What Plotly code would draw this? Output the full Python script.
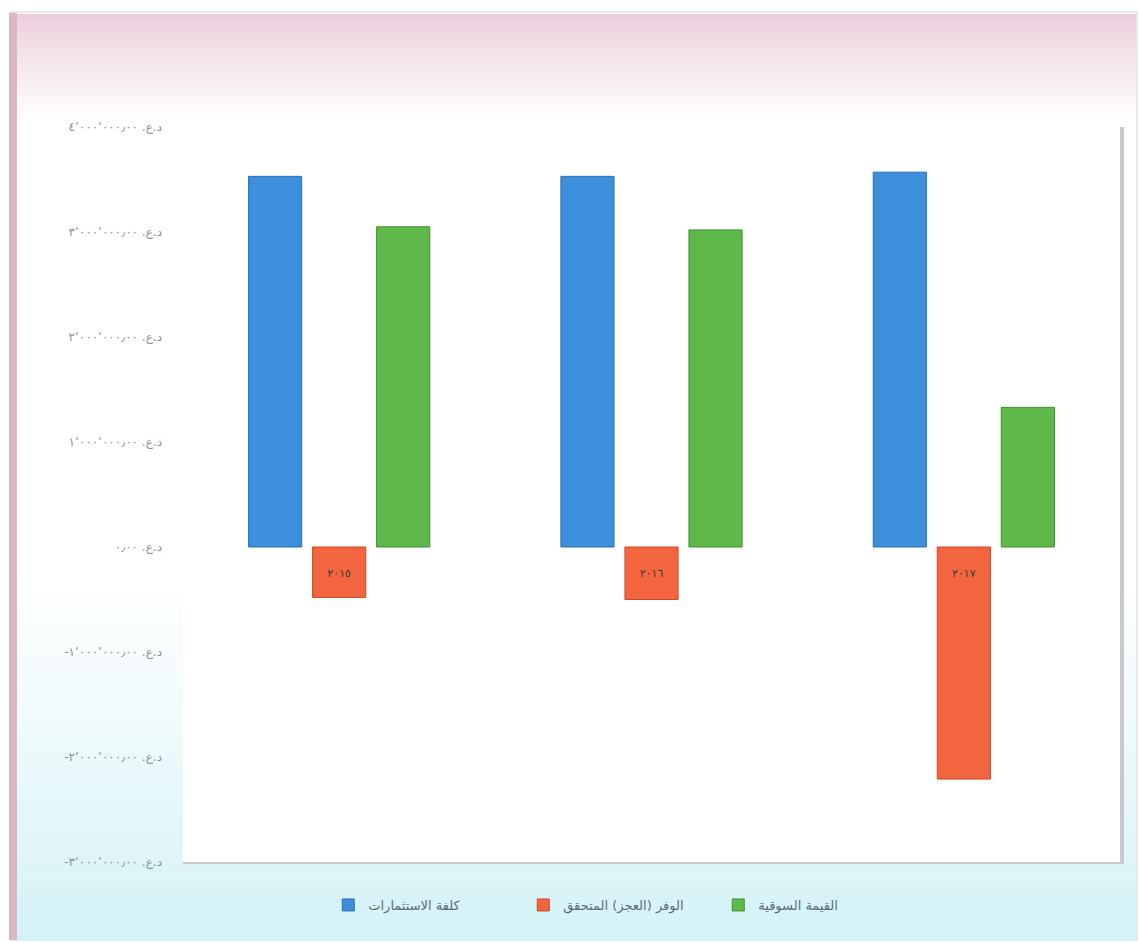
import plotly.graph_objects as go

# ---------------- data ----------------
categories = ["٢٠١٥", "٢٠١٦", "٢٠١٧"]
series_names = ["كلفة الاستثمارات", "الوفر (العجز) المتحقق", "القيمة السوقية"]
investment_cost = [3530000, 3530000, 3570000]
surplus_deficit = [-480000, -500000, -2210000]
market_value = [3050000, 3020000, 1330000]

tick_values = [4000000, 3000000, 2000000, 1000000, 0, -1000000, -2000000, -3000000]
tick_labels = [
    "٤٬٠٠٠٬٠٠٠٫٠٠\u200e .د.ع",
    "٣٬٠٠٠٬٠٠٠٫٠٠\u200e .د.ع",
    "٢٬٠٠٠٬٠٠٠٫٠٠\u200e .د.ع",
    "١٬٠٠٠٬٠٠٠٫٠٠\u200e .د.ع",
    "٠٫٠٠\u200e .د.ع",
    "-١٬٠٠٠٬٠٠٠٫٠٠\u200e .د.ع",
    "-٢٬٠٠٠٬٠٠٠٫٠٠\u200e .د.ع",
    "-٣٬٠٠٠٬٠٠٠٫٠٠\u200e .د.ع",
]

colors = ["#3d8fdc", "#f2653f", "#5fb84a"]
line_colors = ["#2a6fb3", "#c9482a", "#3f8f33"]

W, H = 1139, 943
ML, MR, MT, MB = 183, 19, 127, 81

fig = go.Figure()
for name, vals, c, lc in zip(series_names, [investment_cost, surplus_deficit, market_value], colors, line_colors):
    fig.add_trace(go.Bar(
        x=categories, y=vals, name=name,
        marker=dict(color=c, line=dict(color=lc, width=1)),
        hoverinfo="x+y+name",
    ))

# ---------------- background decoration ----------------
def px_x(px):
    return (px - ML) / (W - ML - MR)

def px_y(py):
    return (H - MB - py) / (H - MT - MB)

def lerp(c1, c2, t):
    return "rgb(%d,%d,%d)" % tuple(round(a + (b - a) * t) for a, b in zip(c1, c2))

shapes = []
shapes.append(dict(type="rect", xref="paper", yref="paper", layer="below",
                   x0=px_x(10), x1=px_x(1137), y0=px_y(940), y1=px_y(12),
                   fillcolor="white", line=dict(color="#ddd0d6", width=1)))
top_c, mid_c = (234, 204, 218), (255, 255, 255)
steps = 24
y_a, y_b = 14, 125
for i in range(steps):
    t = i / (steps - 1)
    ya = y_a + (y_b - y_a) * i / steps
    yb = y_a + (y_b - y_a) * (i + 1) / steps + 0.5
    shapes.append(dict(type="rect", xref="paper", yref="paper", layer="below",
                       x0=px_x(17), x1=px_x(1136), y0=px_y(yb), y1=px_y(ya),
                       fillcolor=lerp(top_c, mid_c, t ** 0.8), line=dict(width=0)))
bot_c = (212, 242, 247)
y_a, y_b = 560, 940
for i in range(steps):
    t = i / (steps - 1)
    ya = y_a + (y_b - y_a) * i / steps
    yb = y_a + (y_b - y_a) * (i + 1) / steps + 0.5
    shapes.append(dict(type="rect", xref="paper", yref="paper", layer="below",
                       x0=px_x(17), x1=px_x(1136), y0=px_y(yb), y1=px_y(ya),
                       fillcolor=lerp(mid_c, bot_c, t ** 1.2), line=dict(width=0)))
shapes.append(dict(type="rect", xref="paper", yref="paper", layer="below",
                   x0=px_x(9), x1=px_x(17), y0=px_y(940), y1=px_y(13),
                   fillcolor="#d9b9c8", line=dict(width=0)))
shapes.append(dict(type="rect", xref="paper", yref="paper", layer="below",
                   x0=0, x1=px_x(1124), y0=px_y(864), y1=1,
                   fillcolor="#c9c9cc", line=dict(width=0)))
shapes.append(dict(type="rect", xref="paper", yref="paper", layer="below",
                   x0=0, x1=1, y0=0, y1=1,
                   fillcolor="white", line=dict(width=0)))

fig.update_layout(
    width=W, height=H,
    margin=dict(l=ML, r=MR, t=MT, b=MB, autoexpand=False),
    paper_bgcolor="white",
    plot_bgcolor="rgba(0,0,0,0)",
    barmode="group",
    bargap=0.385,
    bargroupgap=0.17,
    shapes=shapes,
    showlegend=True,
    legend=dict(orientation="h", xref="container", x=0.545, xanchor="center",
                yref="container", y=(H - 905) / H, yanchor="middle",
                font=dict(family="DejaVu Sans", size=13, color="#5f6b78"),
                bgcolor="rgba(0,0,0,0)", itemwidth=30,
                entrywidth=150, entrywidthmode="pixels"),
    font=dict(family="DejaVu Sans"),
    xaxis=dict(
        anchor="free", position=3 / 7,
        showline=False, showgrid=False, zeroline=False,
        ticks="outside", ticklen=16, tickcolor="rgba(0,0,0,0)",
        tickfont=dict(size=11, color="#3a3a3a"),
    ),
    yaxis=dict(
        range=[-3000000, 4000000],
        tickmode="array", tickvals=tick_values, ticktext=tick_labels,
        showgrid=False, zeroline=False, showline=False,
        ticklabelstandoff=20,
        tickfont=dict(size=12, color="#8a8f98"),
    ),
)

fig.write_html("out.html")
